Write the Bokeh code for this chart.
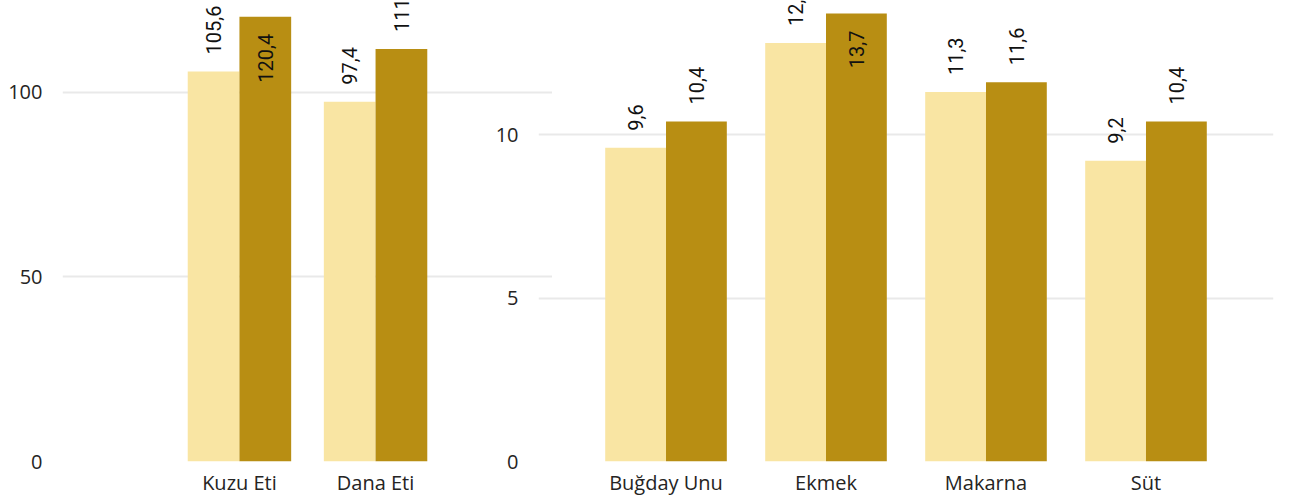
import math
from bokeh.plotting import figure
from bokeh.models import FactorRange, Range1d, FixedTicker, ColumnDataSource
from bokeh.transform import dodge
from bokeh.layouts import row
from bokeh.embed import file_html
from bokeh.resources import INLINE
from bokeh.core.properties import value, field

# ---- data ----
meat_cats = ["Kuzu Eti", "Dana Eti"]
meat_prev = [105.6, 97.4]
meat_curr = [120.4, 111.7]
meat_ticks = [0, 50, 100]

staple_cats = ["Buğday Unu", "Ekmek", "Makarna", "Süt"]
staple_prev = [9.6, 12.8, 11.3, 9.2]
staple_curr = [10.4, 13.7, 11.6, 10.4]
staple_ticks = [0, 5, 10]

LIGHT = "#F9E5A3"
DARK = "#B88E13"
GRID = "#E9E9E9"
TXT = "#252423"
H = 498


def fmt(v):
    return f"{v:.1f}".replace(".", ",")


def panel(cats, prev, curr, ticks, ymax, w, bl, br, pad, transparent=False):
    p = figure(x_range=FactorRange(*cats, range_padding=pad, range_padding_units="absolute"),
               y_range=Range1d(0, ymax), width=w, height=H,
               output_backend="svg", toolbar_location=None,
               min_border_left=bl, min_border_right=br, min_border_top=0, min_border_bottom=37)
    vmax = max(prev + curr)
    data = dict(cat=cats, prev=prev, curr=curr,
                prev_lbl=[fmt(v) for v in prev], curr_lbl=[fmt(v) for v in curr],
                prev_al=["right" if v == vmax else "left" for v in prev],
                curr_al=["right" if v == vmax else "left" for v in curr],
                prev_off=[17 if v == vmax else -17 for v in prev],
                curr_off=[17 if v == vmax else -17 for v in curr])
    src = ColumnDataSource(data)
    for key, d, col in (("prev", -0.19, LIGHT), ("curr", 0.19, DARK)):
        p.vbar(x=dodge("cat", d, range=p.x_range), top=key, width=0.38, source=src,
               fill_color=col, line_color=None)
        p.text(x=dodge("cat", d, range=p.x_range), y=key, text=key + "_lbl", source=src,
               angle=math.pi / 2, text_align=field(key + "_al"), text_baseline="middle",
               y_offset=field(key + "_off"), text_font=value("Roboto"),
               text_font_size="20px", text_color="#111111")
    p.xgrid.grid_line_color = None
    p.ygrid.ticker = FixedTicker(ticks=ticks)
    p.ygrid.grid_line_color = GRID
    p.ygrid.grid_line_width = 2
    p.yaxis.ticker = FixedTicker(ticks=ticks)
    for ax in (p.xaxis, p.yaxis):
        ax.axis_line_color = None
        ax.major_tick_line_color = None
        ax.minor_tick_line_color = None
        ax.major_tick_out = 0
        ax.major_tick_in = 0
        ax.major_label_text_font = "Open Sans"
        ax.major_label_text_font_size = "20px"
        ax.major_label_text_color = TXT
    p.yaxis.major_label_standoff = 20
    p.xaxis.major_label_standoff = 7
    p.outline_line_color = None
    if transparent:
        p.background_fill_alpha = 0
        p.border_fill_alpha = 0
    return p


p1 = panel(meat_cats, meat_prev, meat_curr, meat_ticks, 124.8, 552, 62, 0, 0.8)
p2 = panel(staple_cats, staple_prev, staple_curr, staple_ticks, 14.1, 805, 50, 20, 0.297,
           transparent=True)
p2.margin = (0, 0, 0, -64)

lay = row(p1, p2)
open("out.html", "w").write(file_html(lay, INLINE))
